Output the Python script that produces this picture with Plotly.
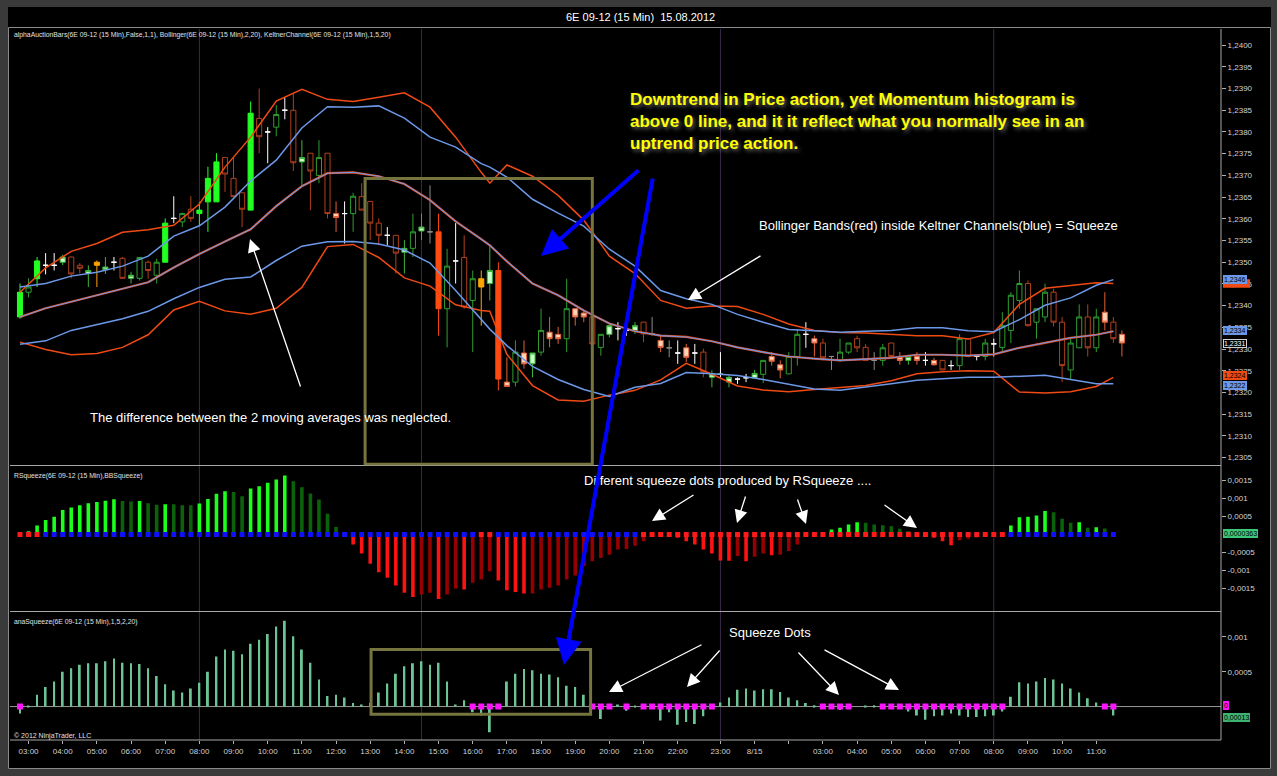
import plotly.graph_objects as go
from plotly.subplots import make_subplots

# 6E 09-12, 15 min bars, numbered 0..129 (the last one is still forming)
bar_index = list(range(130))

opens = [
    1.23374, 1.23431, 1.23462, 1.23493, 1.23493, 1.23500, 1.23512, 1.23493, 1.23474, 1.23500,
    1.23483, 1.23500, 1.23509, 1.23463, 1.23463, 1.23500, 1.23470, 1.23500, 1.23601, 1.23593,
    1.23622, 1.23612, 1.23639, 1.23639, 1.23741, 1.23693, 1.23660, 1.23620, 1.23831, 1.23800,
    1.23811, 1.23850, 1.23850, 1.23731, 1.23751, 1.23700, 1.23751, 1.23612, 1.23612, 1.23612,
    1.23651, 1.23640, 1.23590, 1.23562, 1.23562, 1.23523, 1.23532, 1.23572, 1.23570, 1.23570,
    1.23393, 1.23503, 1.23511, 1.23412, 1.23462, 1.23451, 1.23481, 1.23224, 1.23224, 1.23291,
    1.23266, 1.23293, 1.23339, 1.23334, 1.23324, 1.23393, 1.23383, 1.23374, 1.23304, 1.23334,
    1.23347, 1.23343, 1.23343, 1.23362, 1.23335, 1.23320, 1.23303, 1.23291, 1.23303, 1.23291,
    1.23293, 1.23235, 1.23242, 1.23224, 1.23231, 1.23234, 1.23234, 1.23242, 1.23283, 1.23264,
    1.23243, 1.23283, 1.23334, 1.23324, 1.23314, 1.23283, 1.23274, 1.23293, 1.23324, 1.23304,
    1.23274, 1.23274, 1.23314, 1.23283, 1.23274, 1.23283, 1.23274, 1.23274, 1.23274, 1.23262,
    1.23262, 1.23324, 1.23283, 1.23283, 1.23312, 1.23304, 1.23343, 1.23412, 1.23451, 1.23362,
    1.23374, 1.23431, 1.23362, 1.23252, 1.23303, 1.23374, 1.23303, 1.23385, 1.23362, 1.23334,
]
highs = [
    1.23451, 1.23463, 1.23512, 1.23521, 1.23521, 1.23517, 1.23513, 1.23498, 1.23493, 1.23504,
    1.23512, 1.23512, 1.23512, 1.23478, 1.23512, 1.23504, 1.23508, 1.23601, 1.23652, 1.23614,
    1.23652, 1.23639, 1.23720, 1.23751, 1.23741, 1.23741, 1.23660, 1.23870, 1.23900, 1.23811,
    1.23862, 1.23880, 1.23889, 1.23781, 1.23751, 1.23781, 1.23751, 1.23640, 1.23640, 1.23660,
    1.23682, 1.23640, 1.23601, 1.23581, 1.23562, 1.23551, 1.23612, 1.23612, 1.23677, 1.23612,
    1.23531, 1.23590, 1.23562, 1.23481, 1.23481, 1.23539, 1.23500, 1.23281, 1.23320, 1.23320,
    1.23291, 1.23393, 1.23374, 1.23351, 1.23462, 1.23393, 1.23389, 1.23374, 1.23334, 1.23358,
    1.23362, 1.23354, 1.23362, 1.23362, 1.23374, 1.23331, 1.23320, 1.23320, 1.23312, 1.23312,
    1.23301, 1.23251, 1.23293, 1.23239, 1.23235, 1.23243, 1.23252, 1.23274, 1.23293, 1.23274,
    1.23293, 1.23345, 1.23362, 1.23331, 1.23324, 1.23283, 1.23324, 1.23314, 1.23331, 1.23312,
    1.23293, 1.23312, 1.23314, 1.23293, 1.23283, 1.23293, 1.23293, 1.23280, 1.23274, 1.23274,
    1.23334, 1.23324, 1.23283, 1.23324, 1.23324, 1.23385, 1.23431, 1.23481, 1.23458, 1.23393,
    1.23451, 1.23439, 1.23374, 1.23324, 1.23403, 1.23403, 1.23393, 1.23431, 1.23374, 1.23343,
]
lows = [
    1.23370, 1.23419, 1.23443, 1.23472, 1.23481, 1.23493, 1.23463, 1.23474, 1.23443, 1.23443,
    1.23473, 1.23481, 1.23462, 1.23451, 1.23458, 1.23462, 1.23451, 1.23500, 1.23590, 1.23581,
    1.23593, 1.23585, 1.23570, 1.23639, 1.23662, 1.23651, 1.23581, 1.23620, 1.23751, 1.23728,
    1.23790, 1.23829, 1.23710, 1.23677, 1.23620, 1.23682, 1.23601, 1.23570, 1.23543, 1.23570,
    1.23620, 1.23551, 1.23539, 1.23539, 1.23474, 1.23474, 1.23512, 1.23551, 1.23543, 1.23331,
    1.23304, 1.23451, 1.23393, 1.23293, 1.23354, 1.23412, 1.23205, 1.23214, 1.23214, 1.23255,
    1.23235, 1.23285, 1.23304, 1.23312, 1.23293, 1.23354, 1.23362, 1.23312, 1.23285, 1.23327,
    1.23320, 1.23331, 1.23335, 1.23316, 1.23331, 1.23293, 1.23281, 1.23266, 1.23270, 1.23266,
    1.23235, 1.23212, 1.23235, 1.23212, 1.23220, 1.23224, 1.23233, 1.23222, 1.23262, 1.23233,
    1.23243, 1.23262, 1.23303, 1.23283, 1.23274, 1.23252, 1.23270, 1.23289, 1.23293, 1.23274,
    1.23252, 1.23262, 1.23281, 1.23264, 1.23264, 1.23264, 1.23262, 1.23262, 1.23252, 1.23252,
    1.23252, 1.23281, 1.23274, 1.23274, 1.23283, 1.23293, 1.23314, 1.23393, 1.23352, 1.23324,
    1.23362, 1.23352, 1.23224, 1.23231, 1.23303, 1.23283, 1.23293, 1.23343, 1.23314, 1.23283,
]
closes = [
    1.23431, 1.23443, 1.23503, 1.23493, 1.23493, 1.23512, 1.23473, 1.23486, 1.23481, 1.23493,
    1.23489, 1.23500, 1.23463, 1.23470, 1.23511, 1.23481, 1.23500, 1.23590, 1.23601, 1.23612,
    1.23601, 1.23620, 1.23693, 1.23731, 1.23703, 1.23651, 1.23622, 1.23843, 1.23789, 1.23800,
    1.23840, 1.23850, 1.23729, 1.23741, 1.23710, 1.23741, 1.23612, 1.23603, 1.23612, 1.23652,
    1.23620, 1.23590, 1.23562, 1.23562, 1.23521, 1.23532, 1.23570, 1.23581, 1.23570, 1.23393,
    1.23491, 1.23503, 1.23397, 1.23462, 1.23443, 1.23481, 1.23231, 1.23214, 1.23293, 1.23266,
    1.23291, 1.23343, 1.23324, 1.23324, 1.23393, 1.23374, 1.23374, 1.23312, 1.23334, 1.23354,
    1.23347, 1.23343, 1.23354, 1.23335, 1.23335, 1.23304, 1.23303, 1.23291, 1.23281, 1.23291,
    1.23247, 1.23243, 1.23242, 1.23235, 1.23231, 1.23234, 1.23244, 1.23274, 1.23272, 1.23252,
    1.23283, 1.23334, 1.23334, 1.23314, 1.23280, 1.23283, 1.23293, 1.23314, 1.23303, 1.23274,
    1.23274, 1.23303, 1.23283, 1.23274, 1.23283, 1.23274, 1.23274, 1.23264, 1.23252, 1.23262,
    1.23324, 1.23283, 1.23283, 1.23314, 1.23312, 1.23354, 1.23424, 1.23451, 1.23354, 1.23393,
    1.23431, 1.23362, 1.23262, 1.23314, 1.23374, 1.23303, 1.23374, 1.23362, 1.23324, 1.23314,
]
# alphaAuctionBars colouring of each bar
bar_style = (
    "G g G W W l r r l y "
    "l W r l g r g G W g "
    "r G G G r r r G r W "
    "g W r l r g r s W g "
    "r r r W r l g l d O "
    "g W r g y l O s g s "
    "l g s s g s s r g l "
    "W W l r d s d W s W "
    "r l W l W W l g s s "
    "g g W s r d g g r r "
    "d g r s l s W s r W "
    "g r W g W g g g r g "
    "g r r g g r g s r s"
).split()

# Bollinger(2,20) and KeltnerChannel(1.5,20), read at these bars
band_bars = [0, 3, 6, 9, 12, 15, 18, 21, 24, 27, 30, 33, 36, 39, 42, 45, 48, 51, 54, 55, 57,
             60, 63, 66, 69, 72, 75, 78, 81, 84, 87, 90, 93, 96, 99, 102, 105, 108, 111, 114,
             117, 120, 123, 126, 128]
bb_upper = [1.23431, 1.23487, 1.23525, 1.23543, 1.23569, 1.23575, 1.23585, 1.23634, 1.23719,
            1.23788, 1.23871, 1.23898, 1.23875, 1.23870, 1.23880, 1.23890, 1.23857, 1.23788,
            1.23707, 1.23682, 1.23724, 1.23698, 1.23654, 1.23597, 1.23514, 1.23474, 1.23412,
            1.23394, 1.23399, 1.23398, 1.23380, 1.23358, 1.23343, 1.23338, 1.23337, 1.23334,
            1.23331, 1.23331, 1.23323, 1.23338, 1.23403, 1.23440, 1.23447, 1.23453, 1.23451]
bb_lower = [1.23316, 1.23299, 1.23287, 1.23290, 1.23304, 1.23333, 1.23390, 1.23410, 1.23388,
            1.23380, 1.23394, 1.23442, 1.23536, 1.23541, 1.23511, 1.23464, 1.23445, 1.23402,
            1.23389, 1.23387, 1.23288, 1.23216, 1.23183, 1.23180, 1.23194, 1.23205, 1.23229,
            1.23267, 1.23242, 1.23215, 1.23206, 1.23202, 1.23207, 1.23212, 1.23216, 1.23227,
            1.23243, 1.23248, 1.23250, 1.23249, 1.23201, 1.23199, 1.23202, 1.23214, 1.23235]
kc_upper = [1.23443, 1.23451, 1.23468, 1.23477, 1.23491, 1.23514, 1.23560, 1.23584, 1.23627,
            1.23687, 1.23735, 1.23809, 1.23858, 1.23857, 1.23860, 1.23832, 1.23788, 1.23765,
            1.23727, 1.23719, 1.23696, 1.23645, 1.23613, 1.23583, 1.23530, 1.23491, 1.23435,
            1.23416, 1.23403, 1.23380, 1.23362, 1.23345, 1.23342, 1.23339, 1.23341, 1.23343,
            1.23349, 1.23349, 1.23342, 1.23340, 1.23368, 1.23401, 1.23418, 1.23447, 1.23460]
kc_lower = [1.23311, 1.23319, 1.23343, 1.23357, 1.23370, 1.23387, 1.23416, 1.23442, 1.23461,
            1.23466, 1.23504, 1.23537, 1.23547, 1.23548, 1.23542, 1.23528, 1.23498, 1.23435,
            1.23368, 1.23346, 1.23308, 1.23260, 1.23230, 1.23207, 1.23191, 1.23212, 1.23221,
            1.23246, 1.23243, 1.23239, 1.23230, 1.23219, 1.23208, 1.23205, 1.23212, 1.23220,
            1.23228, 1.23232, 1.23235, 1.23235, 1.23237, 1.23240, 1.23230, 1.23220, 1.23220]
middle = [1.23374, 1.23394, 1.23409, 1.23424, 1.23439, 1.23454, 1.23488, 1.23519, 1.23548,
          1.23576, 1.23629, 1.23675, 1.23705, 1.23707, 1.23698, 1.23680, 1.23643, 1.23594,
          1.23553, 1.23539, 1.23502, 1.23451, 1.23424, 1.23389, 1.23359, 1.23341, 1.23331,
          1.23328, 1.23318, 1.23304, 1.23293, 1.23283, 1.23278, 1.23274, 1.23277, 1.23280,
          1.23287, 1.23287, 1.23285, 1.23288, 1.23303, 1.23315, 1.23326, 1.23333, 1.23341]

# RSqueeze(BBSqueeze) momentum, bars 0..128
rsq_momentum = [
    0.00001, 0.00009, 0.00025, 0.0004, 0.00049, 0.00068, 0.00075, 0.00081, 0.00087, 0.0009,
    0.00094, 0.00098, 0.00093, 0.00092, 0.00093, 0.00087, 0.00083, 0.00084, 0.00084, 0.00081,
    0.00081, 0.00086, 0.00099, 0.00113, 0.0012, 0.00118, 0.00106, 0.00128, 0.00134, 0.00144,
    0.00153, 0.00164, 0.00148, 0.00131, 0.00114, 0.00097, 0.00058, 0.00021, -0.00003, -0.00028,
    -0.00053, -0.00081, -0.00105, -0.0012, -0.00142, -0.00162, -0.00174, -0.00167, -0.00162, -0.00179,
    -0.00167, -0.0015, -0.00153, -0.00134, -0.00125, -0.00102, -0.00128, -0.00155, -0.0016, -0.00164,
    -0.00164, -0.00153, -0.00148, -0.00142, -0.00125, -0.00114, -0.00088, -0.00074, -0.00065, -0.00056,
    -0.00042, -0.0004, -0.00031, -0.00019, -0.00003, -0.00001, -0.00003, -0.00009, -0.00019, -0.00028,
    -0.00042, -0.00053, -0.00072, -0.00073, -0.0006, -0.00074, -0.00062, -0.00053, -0.00058, -0.00056,
    -0.00046, -0.00028, -0.00006, 0.00001, 0.00006, 0.00014, 0.00019, 0.00028, 0.00034, 0.00033,
    0.00028, 0.00026, 0.00023, 0.00016, 0.00009, 0.00001, -0.00001, -0.00009, -0.00019, -0.0003,
    -0.00016, -0.00012, -0.00008, -0.00005, -0.00003, -0.00001, 0.00025, 0.00048, 0.00049, 0.00053,
    0.00065, 0.00062, 0.00044, 0.00033, 0.00034, 0.00019, 0.0002, 0.00017, 0.0000363,
]
rsq_squeeze_bars = [0, 1, 2, 54, 55] + list(range(73, 116))

# anaSqueeze(1.5,2,20) momentum, bars 0..128
ana_momentum = [
    -0.0001, 0.00001, 0.00017, 0.00028, 0.00036, 0.0005, 0.00055, 0.0006, 0.00062, 0.00062,
    0.00065, 0.00069, 0.00063, 0.00062, 0.00061, 0.00055, 0.00044, 0.00032, 0.00023, 0.0002,
    0.00026, 0.00034, 0.0005, 0.00072, 0.00082, 0.0008, 0.00075, 0.0009, 0.00096, 0.00104,
    0.00115, 0.00123, 0.00101, 0.00082, 0.00063, 0.00039, 0.00015, 0.00017, 0.00013, 0.00005,
    0.00003, 0.00005, 0.0002, 0.00033, 0.00047, 0.00058, 0.00062, 0.00065, 0.0006, 0.00063,
    0.00036, 0.00003, 0.00009, -0.00008, -0.00013, -0.00037, 0.0, 0.00036, 0.00047, 0.00054,
    0.00052, 0.00047, 0.00046, 0.00042, 0.0003, 0.00028, 0.00017, 0.0, -0.00018, 0.0,
    0.00003, -0.00006, 0.00001, 0.0, 0.0, -0.0002, -0.00008, -0.00026, -0.00022, -0.00025,
    -0.00014, 0.0, 0.00006, 0.00013, 0.00024, 0.00026, 0.00023, 0.00025, 0.00025, 0.00021,
    0.00013, 0.00009, 0.00005, 0.00002, 0.0, 0.0, -0.00005, 0.0, 0.0, 0.00001,
    0.00002, 0.0, 0.0, 0.0, -0.00007, -0.00013, -0.00019, -0.00014, -0.00013, -0.0001,
    -0.00013, -0.00015, -0.00015, -0.00014, -0.00013, -0.00007, 0.00014, 0.00035, 0.00033, 0.00036,
    0.00041, 0.00039, 0.00033, 0.00026, 0.0002, 0.00012, 0.00006, 0.0, -0.00013,
]
ana_squeeze_bars = ([0, 53, 54, 55, 56, 67, 68, 69, 71] + list(range(73, 82))
                    + list(range(94, 98)) + list(range(101, 116)) + [127, 128])

# time axis
time_ticks = [1, 5, 9, 13, 17, 21, 25, 29, 33, 37, 41, 45, 49, 53, 57, 61, 65, 69, 73, 77,
              82, 86, 90, 94, 98, 102, 106, 110, 114, 118, 122, 126]
time_labels = ["03:00", "04:00", "05:00", "06:00", "07:00", "08:00", "09:00", "10:00",
               "11:00", "12:00", "13:00", "14:00", "15:00", "16:00", "17:00", "18:00",
               "19:00", "20:00", "21:00", "22:00", "23:00", "8/15", "", "03:00", "04:00",
               "05:00", "06:00", "07:00", "08:00", "09:00", "10:00", "11:00"]
session_bars = [21, 47, 82, 114]

price_ticks = [1.2305, 1.2310, 1.2315, 1.2320, 1.2325, 1.2330, 1.2335, 1.2340, 1.2345, 1.2350,
               1.2355, 1.2360, 1.2365, 1.2370, 1.2375, 1.2380, 1.2385, 1.2390, 1.2395, 1.2400]
rsq_ticks = [-0.0015, -0.001, -0.0005, 0.0005, 0.001, 0.0015]
ana_ticks = [0.0005, 0.001]

FONT = "Arial, Liberation Sans, sans-serif"
W, H = 1277, 776


def px(x):
    # window pixel -> paper x
    return (x - 10) / 1211


def py(y):
    # window pixel -> paper y
    return (740 - y) / 711


def comma(v, fmt):
    return format(v, fmt).replace('.', ',')


fig = make_subplots(rows=3, cols=1, shared_xaxes=True, vertical_spacing=0)

# candles, one trace per colour style
candle_styles = {
    'G': ('#22ff22', '#22ff22'),
    'g': ('#2f9e2f', '#000000'),
    'l': ('#3cb43c', '#c8ffc8'),
    'r': ('#b0401c', '#000000'),
    'O': ('#ff4a10', '#ff4a10'),
    's': ('#e2603a', '#ffd2b4'),
    'y': ('#ffa500', '#ffa500'),
    'W': ('#ffffff', '#ffffff'),
    'd': ('#8c8c8c', '#8c8c8c'),
}
for key, (line_c, fill_c) in candle_styles.items():
    idx = [i for i, s in enumerate(bar_style) if s == key]
    style = dict(line=dict(color=line_c, width=1), fillcolor=fill_c)
    fig.add_trace(go.Candlestick(
        x=[bar_index[i] for i in idx],
        open=[opens[i] for i in idx],
        high=[highs[i] for i in idx],
        low=[lows[i] for i in idx],
        close=[closes[i] for i in idx],
        increasing=style, decreasing=style,
        whiskerwidth=0, showlegend=False, hoverinfo='skip'), row=1, col=1)

# bands
red = '#f04a14'
blue = '#6c98e8'
for vals, col, w in [(bb_upper, red, 1.5), (bb_lower, red, 1.5), (middle, red, 2.2),
                     (kc_upper, blue, 1.5), (kc_lower, blue, 1.5), (middle, blue, 1.1)]:
    fig.add_trace(go.Scatter(x=band_bars, y=vals, mode='lines',
                             line=dict(color=col, width=w), showlegend=False,
                             hoverinfo='skip'), row=1, col=1)

# RSqueeze histogram: bright when momentum grows away from zero
rsq_colors = []
prev = 0
for v in rsq_momentum:
    if v >= 0:
        rsq_colors.append('#1cff1c' if v > prev else '#0b620b')
    else:
        rsq_colors.append('#ff1212' if v < prev else '#960000')
    prev = v
ind_bars = bar_index[:len(rsq_momentum)]
fig.add_trace(go.Bar(x=ind_bars, y=rsq_momentum, width=0.42,
                     marker=dict(color=rsq_colors, line=dict(width=0)),
                     showlegend=False, hoverinfo='skip'), row=2, col=1)
fig.add_trace(go.Scatter(
    x=ind_bars, y=[0] * len(ind_bars), mode='markers',
    marker=dict(symbol='square', size=5,
                color=['#ff1a1a' if i in rsq_squeeze_bars else '#1010ff' for i in ind_bars]),
    showlegend=False, hoverinfo='skip'), row=2, col=1)

# anaSqueeze histogram
fig.add_trace(go.Bar(x=ind_bars, y=ana_momentum, width=0.22,
                     marker=dict(color='#6cc494', line=dict(width=0)),
                     showlegend=False, hoverinfo='skip'), row=3, col=1)
fig.add_trace(go.Scatter(
    x=ana_squeeze_bars, y=[0] * len(ana_squeeze_bars), mode='markers',
    marker=dict(symbol='square', size=6, color='#ff14ff'),
    showlegend=False, hoverinfo='skip'), row=3, col=1)

axis_font = dict(family=FONT, size=8, color='#d2d2d2')
yaxis_common = dict(side='right', showgrid=False, zeroline=False, showline=False,
                    ticks='outside', ticklen=4, tickcolor='#b0b0b0', tickfont=axis_font)

fig.update_layout(
    width=W, height=H,
    margin=dict(l=10, r=56, t=29, b=36),
    paper_bgcolor='#000000', plot_bgcolor='#000000',
    font=dict(family=FONT, color='#ffffff'),
    showlegend=False,
    boxgap=0.3, boxgroupgap=0.15,
    yaxis=dict(domain=[py(465.5), 1], range=[1.23032, 1.24037],
               tickvals=price_ticks, ticktext=[comma(v, '.4f') for v in price_ticks],
               **yaxis_common),
    yaxis2=dict(domain=[py(611.5), py(466.5)], range=[-0.00214, 0.00189],
                tickvals=rsq_ticks,
                ticktext=[comma(v, 'g') for v in rsq_ticks], **yaxis_common),
    yaxis3=dict(domain=[0, py(612.5)], range=[-0.00048, 0.00135],
                tickvals=ana_ticks,
                ticktext=[comma(v, 'g') for v in ana_ticks], **yaxis_common),
)
fig.update_xaxes(range=[-1.17, 140.6], showgrid=False, zeroline=False,
                 rangeslider_visible=False, showticklabels=False, ticks='')
fig.update_xaxes(row=3, col=1, showticklabels=True, ticks='outside', ticklen=3,
                 tickcolor='#b0b0b0', tickvals=time_ticks, ticktext=time_labels,
                 tickfont=axis_font)

frame = '#a8a8a8'
shapes = []
# window border
for x0, y0, x1, y1 in [(0, 0, W, 7), (0, 0, 8, H), (1271, 0, W, H), (0, 769, W, H)]:
    shapes.append(dict(type='rect', xref='paper', yref='paper', x0=px(x0), x1=px(x1),
                       y0=py(y0), y1=py(y1), fillcolor='#3a3a3a', line=dict(width=0)))
shapes.append(dict(type='rect', xref='paper', yref='paper', x0=px(8.5), x1=px(1270.5),
                   y0=py(27.5), y1=py(768.5), line=dict(color='#8a8a8a', width=1)))
# session break lines
for b in session_bars:
    shapes.append(dict(type='line', xref='x', yref='paper', x0=b, x1=b, y0=0, y1=1,
                       line=dict(color='#3b2948', width=1), layer='below'))
# panel separators and price axis line
for yy in [465.5, 611.5, 740]:
    shapes.append(dict(type='line', xref='paper', yref='paper', x0=0, x1=1,
                       y0=py(yy), y1=py(yy), line=dict(color=frame, width=1)))
shapes.append(dict(type='line', xref='paper', yref='paper', x0=1, x1=1, y0=0, y1=1,
                   line=dict(color=frame, width=1)))
# anaSqueeze zero line
shapes.append(dict(type='line', xref='paper', yref='y3', x0=0, x1=1, y0=0, y1=0,
                   line=dict(color='#9a9a9a', width=1), layer='below'))
# highlighted boxes
olive = '#77753f'
shapes.append(dict(type='rect', xref='x', yref='y', x0=40.4, x1=67.0, y0=1.23035, y1=1.23693,
                   line=dict(color=olive, width=3)))
shapes.append(dict(type='rect', xref='x', yref='y3', x0=41.1, x1=66.8, y0=-0.00011, y1=0.00082,
                   line=dict(color=olive, width=3)))
# Bollinger upper value flag, hidden behind the Keltner flag
shapes.append(dict(type='rect', xref='paper', yref='y', x0=px(1223), x1=px(1250),
                   y0=bb_upper[-1] - 0.0001, y1=bb_upper[-1] + 0.0001,
                   fillcolor=red, line=dict(width=0)))
fig.update_layout(shapes=shapes)

ann = []


def text(x, y, s, size=13, color='#ffffff', xanchor='left', yanchor='middle', shadow=None):
    font = dict(family=FONT, size=size, color=color)
    if shadow:
        font['shadow'] = shadow
    ann.append(dict(xref='paper', yref='paper', x=px(x), y=py(y), text=s, showarrow=False,
                    xanchor=xanchor, yanchor=yanchor, align='left', font=font))


def arrow(hx, hy, tx, ty, color='#ffffff', width=1.3, size=2.0):
    ann.append(dict(xref='paper', yref='paper', x=px(hx), y=py(hy), ax=tx - hx, ay=ty - hy,
                    text='', showarrow=True, arrowhead=2, arrowsize=size,
                    arrowwidth=width, arrowcolor=color))


text(640, 17, "6E 09-12 (15 Min)  15.08.2012", size=11, xanchor='center')
text(12, 35, "alphaAuctionBars(6E 09-12 (15 Min),False,1,1), Bollinger(6E 09-12 (15 Min),2,20), "
     "KeltnerChannel(6E 09-12 (15 Min),1,5,20)", size=6.8, color='#e0e0e0')
text(12, 476, "RSqueeze(6E 09-12 (15 Min),BBSqueeze)", size=6.8, color='#e0e0e0')
text(12, 622, "anaSqueeze(6E 09-12 (15 Min),1,5,2,20)", size=6.8, color='#e0e0e0')
text(12, 736, "© 2012 NinjaTrader, LLC", size=7, color='#e0e0e0')

text(628, 88, "<b>Downtrend in Price action, yet Momentum histogram is<br>"
     "above 0 line, and it it reflect what you normally see in an<br>"
     "uptrend price action.</b>", size=17, color='#ffff00', yanchor='top',
     shadow="2px 2px 4px #707070")
text(757, 225, "Bollinger Bands(red) inside Keltner Channels(blue) = Squeeze")
text(88, 417, "The difference between the 2 moving averages was neglected.")
text(582, 480, "Different squeeze dots produced by RSqueeze ....")
text(727, 632, "Squeeze Dots")

# white arrows
arrow(250, 239, 301, 388)
arrow(688, 300, 762, 255)
arrow(652, 521, 695, 494)
arrow(737, 523, 746, 495)
arrow(806, 524, 797, 498)
arrow(917, 528, 883, 504)
arrow(609, 692, 703, 644)
arrow(687, 687, 721, 649)
arrow(839, 695, 797, 651)
arrow(899, 690, 823, 649)
# blue arrows
arrow(541, 256, 640, 169, color='#0000ff', width=4, size=1.3)
arrow(564, 665, 653, 177, color='#0000ff', width=4, size=1.3)


def flag(value, label, yref, bg, fg='#000000', border=None):
    ann.append(dict(xref='paper', yref=yref, x=px(1223), y=value, text=label,
                    showarrow=False, xanchor='left', yanchor='middle',
                    bgcolor=bg, bordercolor=border or bg, borderwidth=1, borderpad=0,
                    font=dict(family=FONT, size=7, color=fg)))


flag(kc_upper[-1], comma(kc_upper[-1], '.4f'), 'y', blue)
flag(middle[-1] + 0.00002, comma(middle[-1], '.4f'), 'y', blue)
flag(closes[-1] - 0.00002, comma(closes[-1], '.4f'), 'y', '#000000', fg='#ffffff',
     border='#d0d0d0')
flag(bb_lower[-1] + 0.00004, comma(bb_lower[-1], '.4f'), 'y', red)
flag(kc_lower[-1] - 0.00003, comma(kc_lower[-1], '.4f'), 'y', blue)
flag(rsq_momentum[-1], comma(rsq_momentum[-1], '.7f'), 'y2', '#3cc878')
flag(0.00002, "0", 'y3', '#ff14ff')
flag(ana_momentum[-1] - 0.00003, comma(abs(ana_momentum[-1]), '.5f'), 'y3', '#3cb371')

fig.update_layout(annotations=ann)

# the page itself has no margin, so the figure fills the window
fig.write_html("out.html", config={'displayModeBar': False},
               post_script="document.body.style.margin='0';document.body.style.overflow='hidden';")
